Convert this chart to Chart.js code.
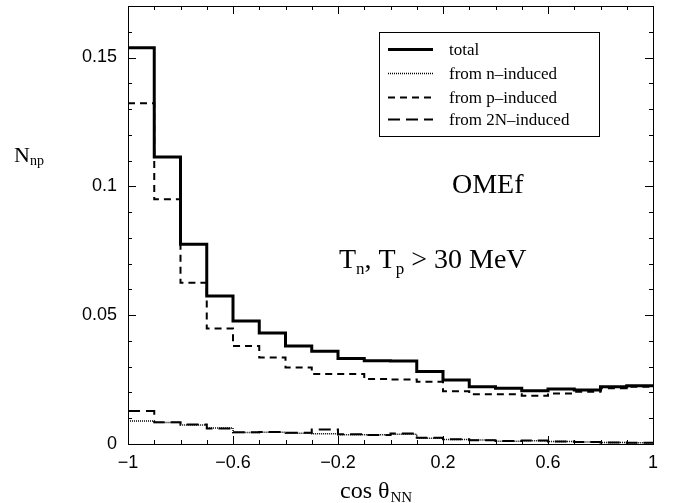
<!DOCTYPE html>
<html>
<head>
<meta charset="utf-8">
<script src="https://cdn.jsdelivr.net/npm/chart.js@4.4.1/dist/chart.umd.min.js"></script>
<style>
  html, body { margin: 0; padding: 0; background: #fff; }
  canvas { display: block; }
</style>
</head>
<body>
<canvas id="grafico" width="673" height="503" style="width:673px;height:503px"></canvas>
<script>
"use strict";

// bin lower edges of cos(theta_NN), width 0.1
const binLo = [-1, -0.9, -0.8, -0.7, -0.6, -0.5, -0.4, -0.3, -0.2, -0.1, 0, 0.1, 0.2, 0.3, 0.4, 0.5, 0.6, 0.7, 0.8, 0.9];
const binHi = 1;

const total     = [0.1538, 0.1114, 0.0775, 0.0574, 0.0477, 0.0431, 0.0380, 0.0360, 0.0332, 0.0323, 0.0322, 0.0281, 0.0248, 0.0222, 0.0216, 0.0207, 0.0213, 0.0210, 0.0222, 0.0226];
const nInduced  = [0.0089, 0.0083, 0.0074, 0.0062, 0.0045, 0.0046, 0.0042, 0.0040, 0.0036, 0.0036, 0.0038, 0.0022, 0.0017, 0.0016, 0.0011, 0.0013, 0.0010, 0.0008, 0.0006, 0.0005];
const pInduced  = [0.1323, 0.0950, 0.0626, 0.0448, 0.0380, 0.0336, 0.0297, 0.0272, 0.0272, 0.0252, 0.0250, 0.0242, 0.0205, 0.0193, 0.0193, 0.0187, 0.0196, 0.0203, 0.0216, 0.0222];
const twoNInduced = [0.0128, 0.0084, 0.0076, 0.0060, 0.0046, 0.0047, 0.0044, 0.0056, 0.0038, 0.0035, 0.0041, 0.0024, 0.0018, 0.0015, 0.0012, 0.0014, 0.0010, 0.0008, 0.0006, 0.0005];

const xTicks = [-1, -0.6, -0.2, 0.2, 0.6, 1];
const yTicks = [0, 0.05, 0.1, 0.15];

const SERIF = "'Liberation Serif', 'Times New Roman', serif";
const SANS = "'Liberation Sans', Arial, sans-serif";

function histo(vals) {
    const pts = binLo.map((x, i) => ({ x, y: vals[i] }));
    pts.push({ x: binHi, y: vals[vals.length - 1] });
    return pts;
}

function fmt(v) {
    const r = Math.round(v * 100) / 100;
    const s = String(Math.abs(r));
    return (r < 0 ? "\u2212" : "") + s;
}

const series = [
    { label: "total", data: total, width: 3, dash: [] },
    { label: "from n\u2013induced", data: nInduced, width: 1.5, dash: [1, 1] },
    { label: "from p\u2013induced", data: pInduced, width: 2, dash: [7, 5] },
    { label: "from 2N\u2013induced", data: twoNInduced, width: 2, dash: [12, 6] }
];

// box, inward ticks, legend and the text labels
const moldura = {
    id: "moldura",
    afterDraw(chart) {
        const { ctx, chartArea: a, scales: { x, y } } = chart;
        ctx.save();
        ctx.strokeStyle = "#000";
        ctx.lineWidth = 1;
        ctx.strokeRect(a.left + 0.5, a.top + 0.5, a.right - a.left, a.bottom - a.top);

        ctx.beginPath();
        for (let i = 0; i <= 20; i++) {
            const v = -1 + i * 0.1;
            const px = Math.round(x.getPixelForValue(v)) + 0.5;
            const len = i % 4 === 0 ? 8 : 4;
            ctx.moveTo(px, a.bottom); ctx.lineTo(px, a.bottom - len);
            ctx.moveTo(px, a.top); ctx.lineTo(px, a.top + len);
        }
        for (let i = 0; i <= 16; i++) {
            const v = i * 0.01;
            const py = Math.round(y.getPixelForValue(v)) + 0.5;
            const len = i % 5 === 0 ? 8 : 4;
            ctx.moveTo(a.left, py); ctx.lineTo(a.left + len, py);
            ctx.moveTo(a.right, py); ctx.lineTo(a.right - len, py);
        }
        ctx.stroke();

        // legend
        ctx.fillStyle = "#fff";
        ctx.fillRect(379, 32, 220, 104);
        ctx.strokeRect(379.5, 32.5, 220, 104);
        ctx.fillStyle = "#000";
        ctx.font = "17px " + SERIF;
        ctx.textBaseline = "alphabetic";
        const rowsY = [49, 73, 97, 119];
        chart.data.datasets.forEach((ds, i) => {
            const ry = rowsY[i] + 0.5;
            ctx.beginPath();
            ctx.lineWidth = ds.borderWidth;
            ctx.setLineDash(ds.borderDash || []);
            ctx.moveTo(388, ry); ctx.lineTo(433, ry);
            ctx.stroke();
            ctx.setLineDash([]);
            ctx.fillText(ds.label, 449, ry + 5);
        });

        // annotations
        ctx.font = "28px " + SERIF;
        ctx.fillText("OMEf", 452, 193);

        let cx = 339;
        const parts = [["T", 0], ["n", 1], [", T", 0], ["p", 1], [" > 30 MeV", 0]];
        parts.forEach(([t, sub]) => {
            ctx.font = (sub ? "17px " : "28px ") + SERIF;
            ctx.fillText(t, cx, sub ? 274 : 268);
            cx += ctx.measureText(t).width;
        });

        // axis titles
        ctx.font = "22px " + SERIF;
        ctx.fillText("N", 14, 162);
        let w = ctx.measureText("N").width;
        ctx.font = "14px " + SERIF;
        ctx.fillText("np", 14 + w, 165);

        ctx.font = "24px " + SERIF;
        ctx.fillText("cos \u03b8", 340, 498);
        w = ctx.measureText("cos \u03b8").width;
        ctx.font = "15px " + SERIF;
        ctx.fillText("NN", 340 + w + 1, 502);
        ctx.restore();
    }
};

new Chart(document.getElementById("grafico"), {
    type: "line",
    data: {
        datasets: series.map(s => ({
            label: s.label,
            data: histo(s.data),
            borderColor: "#000",
            borderWidth: s.width,
            borderDash: s.dash,
            stepped: "before",
            pointRadius: 0,
            fill: false
        }))
    },
    options: {
        responsive: false,
        animation: false,
        layout: { padding: { top: 6, right: 20, left: 0, bottom: 0 } },
        plugins: { legend: { display: false }, tooltip: { enabled: false } },
        scales: {
            x: {
                type: "linear", min: -1, max: 1,
                grid: { display: false, drawTicks: false },
                border: { display: false },
                afterBuildTicks: s => { s.ticks = xTicks.map(v => ({ value: v })); },
                afterFit: s => { s.height = 59; s.paddingLeft = 0; s.paddingRight = 0; },
                ticks: { color: "#000", padding: 8, font: { family: SANS, size: 18 }, callback: v => fmt(v), maxRotation: 0 }
            },
            y: {
                type: "linear", min: 0, max: 0.17,
                grid: { display: false, drawTicks: false },
                border: { display: false },
                afterBuildTicks: s => { s.ticks = yTicks.map(v => ({ value: v })); },
                afterFit: s => { s.width = 128; s.paddingTop = 0; s.paddingBottom = 0; },
                ticks: { color: "#000", padding: 11, font: { family: SANS, size: 18 }, callback: v => fmt(v) }
            }
        }
    },
    plugins: [moldura]
});
</script>
</body>
</html>
